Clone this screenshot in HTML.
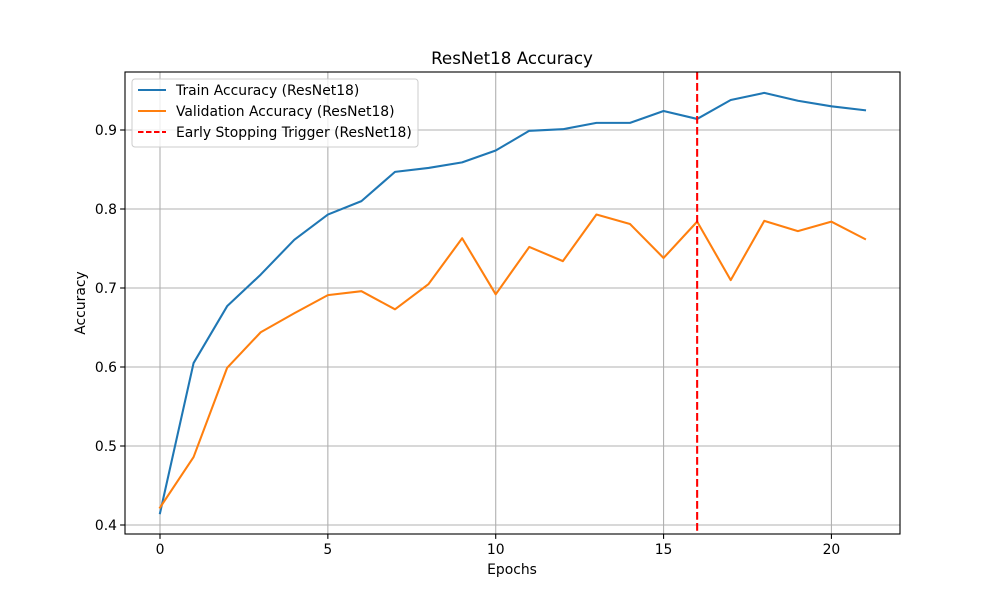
<!DOCTYPE html>
<html><head><meta charset="utf-8"><style>
body{margin:0;background:#fff;}
text{font-family:"DejaVu Sans","Liberation Sans",sans-serif;fill:#000;}
</style></head><body>
<svg id="chart" width="1000" height="600">
<rect x="0" y="0" width="1000" height="600" fill="#fff"/>
<g id="grid"></g><g id="series"></g><g id="axes"></g>
</svg>
<script>
const epochs=[0,1,2,3,4,5,6,7,8,9,10,11,12,13,14,15,16,17,18,19,20,21];
const trainAcc=[0.415,0.605,0.677,0.717,0.761,0.793,0.810,0.847,0.852,0.859,0.874,0.899,0.901,0.909,0.909,0.924,0.914,0.938,0.947,0.937,0.930,0.925];
const valAcc=[0.422,0.486,0.599,0.644,0.668,0.691,0.696,0.673,0.705,0.763,0.692,0.752,0.734,0.793,0.781,0.738,0.784,0.710,0.785,0.772,0.784,0.762];
const stopEpoch=16;
const xTicks=[0,5,10,15,20];
const yTicks=[0.4,0.5,0.6,0.7,0.8,0.9];
const L=125,R=900,T=72,B=534;
const xs=v=>160+v*(865-160)/21;
const ys=v=>525-(v-0.4)*790;
const NS="http://www.w3.org/2000/svg";
function mk(tag,attrs,parent,txt){const e=document.createElementNS(NS,tag);for(const k in attrs)e.setAttribute(k,attrs[k]);if(txt!==undefined)e.textContent=txt;parent.appendChild(e);return e;}
const grid=document.getElementById('grid'),ser=document.getElementById('series'),ax=document.getElementById('axes');
xTicks.forEach(t=>{const x=xs(t);
 const g=mk('line',{x1:x,x2:x,y1:T,y2:B,stroke:'#b0b0b0','stroke-width':1.1},grid);
 
 mk('line',{x1:x,x2:x,y1:B,y2:B+4.9,stroke:'#000','stroke-width':1.1},ax);
 const l=mk('text',{x:x,y:B+20,'font-size':13.9,'text-anchor':'middle'},ax,String(t));
 });
yTicks.forEach(t=>{const y=ys(t);
 const g=mk('line',{x1:L,x2:R,y1:y,y2:y,stroke:'#b0b0b0','stroke-width':1.1},grid);
 
 mk('line',{x1:L-4.9,x2:L,y1:y,y2:y,stroke:'#000','stroke-width':1.1},ax);
 const l=mk('text',{x:L-8,y:y+5,'font-size':13.9,'text-anchor':'end'},ax,t.toFixed(1));
 });
function line(arr,color,name){const p=mk('polyline',{points:epochs.map((e,i)=>xs(e)+','+ys(arr[i])).join(' '),fill:'none',stroke:color,'stroke-width':2.08,'stroke-linejoin':'round','stroke-linecap':'square'},ser);
 }
line(trainAcc,'#1f77b4','train-accuracy-line');
line(valAcc,'#ff7f0e','validation-accuracy-line');
const es=mk('line',{x1:xs(stopEpoch),x2:xs(stopEpoch),y1:T,y2:B,stroke:'#ff0000','stroke-width':2.08,'stroke-dasharray':'7.7,3.3'},ser);

const fr=mk('rect',{x:L,y:T,width:R-L,height:B-T,fill:'none',stroke:'#000','stroke-width':1.1},ax);

const ti=mk('text',{x:512,y:64,'font-size':16.7,'text-anchor':'middle'},ax,'ResNet18 Accuracy');

const xt=mk('text',{x:512,y:574,'font-size':13.9,'text-anchor':'middle'},ax,'Epochs');

const yt=mk('text',{x:85,y:303,'font-size':13.9,'text-anchor':'middle',transform:'rotate(-90 85 303)'},ax,'Accuracy');

const lg=mk('g',{},ax);

mk('rect',{x:132,y:79,width:286,height:68,rx:3,fill:'#fff','fill-opacity':0.8,stroke:'#ccc','stroke-width':1},lg);
const ents=[['Train Accuracy (ResNet18)','#1f77b4',null],['Validation Accuracy (ResNet18)','#ff7f0e',null],['Early Stopping Trigger (ResNet18)','#ff0000','5.5,2.5']];
ents.forEach((e,i)=>{const y=90+i*21;const g=mk('g',{},lg);
 
 const a={x1:138,x2:166,y1:y,y2:y,stroke:e[1],'stroke-width':2.08};if(e[2])a['stroke-dasharray']=e[2];
 mk('line',a,g);mk('text',{x:176,y:y+5,'font-size':13.9},g,e[0]);});
</script>
</body></html>
